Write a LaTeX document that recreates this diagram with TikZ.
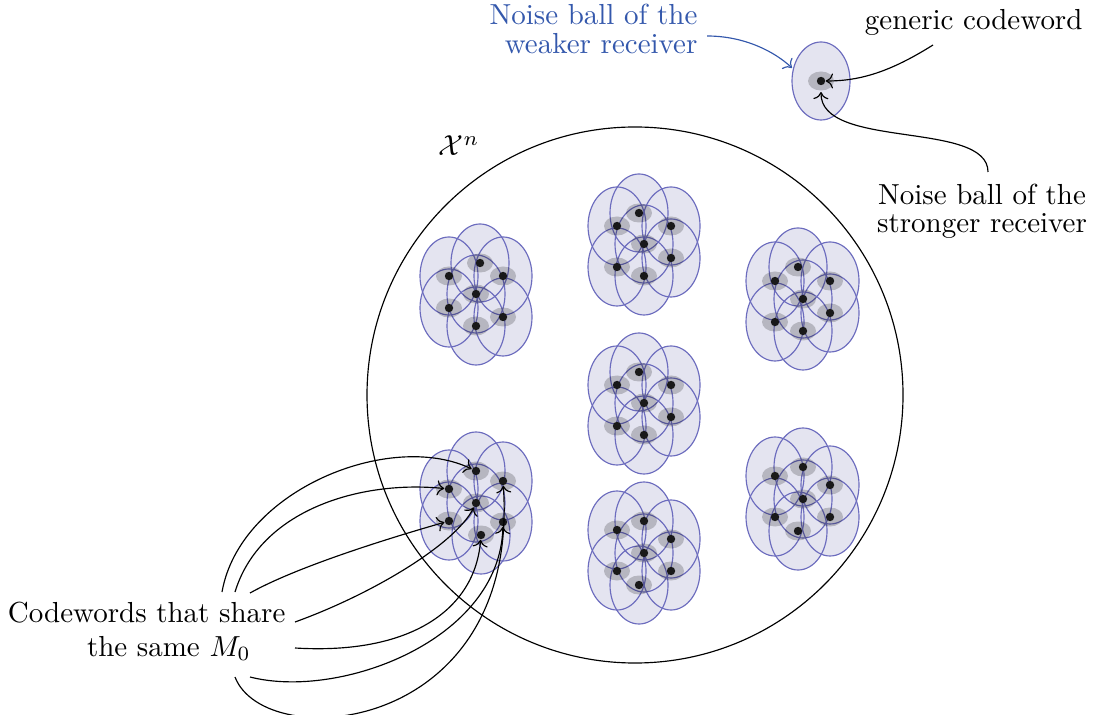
\documentclass[tikz,border=0pt]{standalone}
\usetikzlibrary{arrows.meta}
\definecolor{ballfillc}{RGB}{228,228,240}
\definecolor{balllinec}{RGB}{108,108,190}
\definecolor{labelblue}{RGB}{52,88,172}
\tikzset{
  ballfill/.style={fill=ballfillc},
  ballline/.style={draw=balllinec, line width=0.4pt},
  noisefill/.style={fill=black, fill opacity=0.2},
  dot/.style={circle, fill=black!90, draw=none, inner sep=0pt, minimum size=2.9pt},
  conn/.style={draw=black, line width=0.4pt, ->},
  blueconn/.style={draw=labelblue, line width=0.4pt, ->},
  lbl/.style={inner sep=0pt, font=\fontsize{10}{10}\selectfont}
}
\newcommand\drawcluster[2]{%
  \foreach \x/\y in {#2} \fill[ballfill] (\x,\y) ellipse [x radius=29, y radius=39];
  \foreach \x/\y in {#2} \draw[ballline] (\x,\y) ellipse [x radius=29, y radius=39];
  \foreach \x/\y in {#2} \fill[noisefill] (\x,\y) ellipse [x radius=13, y radius=9.5];
  \foreach \x/\y [count=\i] in {#2} \node[dot] (#1\i) at (\x,\y) {};
}
\begin{document}
\begin{tikzpicture}[x=0.345pt, y=-0.345pt]
\useasboundingbox (0,0) rectangle (1103,715);

% big circle X^n
\draw[line width=0.4pt] (635,395) circle [radius=268];
\node[anchor=base west, inner sep=0pt] (xn) at (438,156) {$\mathcal{X}^n$};

% clusters
\drawcluster{A}{480/263, 503/276, 449/276, 476/294, 449/308, 503/317, 476/326}
\drawcluster{B}{639/213, 671/226, 617/226, 644/244, 617/267, 671/258, 644/276}
\drawcluster{C}{798/267, 830/281, 775/281, 803/299, 775/322, 830/313, 803/331}
\drawcluster{D}{639/372, 671/385, 617/385, 644/403, 617/426, 671/417, 644/435}
\drawcluster{E}{803/467, 830/485, 775/476, 803/499, 775/517, 830/517, 798/531}
\drawcluster{F}{644/521, 671/539, 617/530, 644/553, 617/571, 671/571, 639/585}
\drawcluster{G}{476/471, 503/481, 449/489, 476/503, 449/521, 503/522, 481/535}

% single noise ball at top
\fill[ballfill] (821,81) ellipse [x radius=29, y radius=39];
\draw[ballline] (821,81) ellipse [x radius=29, y radius=39];
\fill[noisefill] (821,81) ellipse [x radius=13, y radius=9.5];
\node[dot] (gen) at (821,81) {};
\coordinate (weakend) at (792,68);
\coordinate (strongend) at (821,92);

% labels (base anchor = baseline of the last line)
\node[lbl, anchor=base east, align=right, text=labelblue, font=\fontsize{10}{10.3}\selectfont] (weak) at (698,54) {Noise ball of the\\weaker receiver};
\node[lbl, anchor=base east] (generic) at (1083,30) {generic codeword};
\node[lbl, anchor=base, align=center, font=\fontsize{10}{10}\selectfont] (strong) at (982,233) {Noise ball of the\\stronger receiver};
\node[lbl, anchor=base east, align=right, font=\fontsize{10}{11.7}\selectfont] (share) at (286,656) {Codewords that share\\the same $M_0$\hspace*{12pt}};

% connectors at the top
\coordinate (wstart) at (707,36);
\coordinate (gstart) at (933,45);
\coordinate (sstart) at (988,172);
\draw[blueconn] (wstart) .. controls (745,36) and (775,52) .. (weakend);
\draw[conn] (gstart) .. controls (890,72) and (860,81) .. (gen);
\draw[conn] (sstart) .. controls (988,120) and (820,150) .. (strongend);

% connectors from the codewords label
\coordinate (c1) at (222,592);
\coordinate (c2) at (235,592);
\coordinate (c3) at (250,593);
\coordinate (c4) at (295,622);
\coordinate (c5) at (295,648);
\coordinate (c6) at (250,677);
\coordinate (c7) at (235,677);
\draw[conn] (c1) .. controls (240,490) and (390,430) .. (G1);
\draw[conn] (c2) .. controls (260,510) and (360,480) .. (G3);
\draw[conn] (c3) .. controls (300,565) and (400,535) .. (G5);
\draw[conn] (c4) .. controls (370,595) and (455,545) .. (G4);
\draw[conn] (c5) .. controls (410,655) and (475,610) .. (G7);
\draw[conn] (c6) .. controls (340,700) and (500,640) .. (G6);
\draw[conn] (c7) .. controls (265,755) and (520,735) .. (G2);
\end{tikzpicture}
\end{document}
